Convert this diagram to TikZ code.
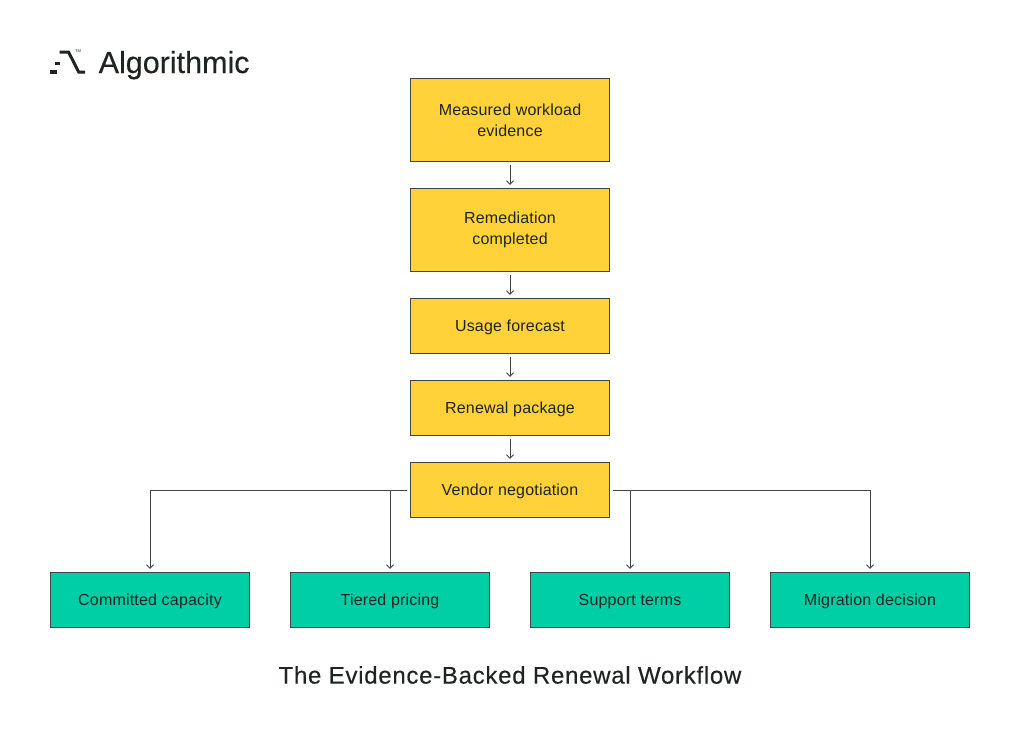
\documentclass[tikz,border=0pt]{standalone}
\usepackage{fontspec}
\setmainfont{Liberation Sans}
\newfontfamily\boxfont[LetterSpace=1.2]{Liberation Sans}
\newfontfamily\titlefont[LetterSpace=3,FakeBold=0.25]{Liberation Sans}
\newfontfamily\brandfont[FakeBold=0.3]{Liberation Sans}
\usetikzlibrary{arrows.meta}
\definecolor{boxyellow}{HTML}{FFD23A}
\definecolor{boxgreen}{HTML}{00CFA6}
\definecolor{inkdark}{HTML}{1E2420}

\begin{document}
\begin{tikzpicture}[x=1pt,y=-1pt,
  flow node/.style={rectangle,draw=inkdark!85,line width=0.9pt,minimum width=199.5pt,inner sep=0pt,align=center,text=inkdark,font=\boxfont\fontsize{16}{21}\selectfont},
  input node/.style={flow node,fill=boxyellow},
  single node/.style={minimum height=55.5pt,text height=14pt,text depth=4pt},
  outcome node/.style={flow node,single node,fill=boxgreen},
  link/.style={draw=inkdark!85,line width=0.9pt,-{Straight Barb[length=3.5pt,width=7pt]},shorten >=3pt,shorten <=3pt}]
  \useasboundingbox (0,0) rectangle (1020,740);

  \node[input node,minimum height=83.5pt] (evidence) at (510,120) {Measured workload\\evidence};
  \node[input node,minimum height=83.5pt] (remediation) at (510,230) {Remediation\\completed};
  \node[input node,single node] (forecast) at (510,326) {Usage forecast};
  \node[input node,single node] (package) at (510,408) {Renewal package};
  \node[input node,single node] (vendor) at (510,490) {Vendor negotiation};

  \node[outcome node] (capacity) at (150,600) {Committed capacity};
  \node[outcome node] (pricing) at (390,600) {Tiered pricing};
  \node[outcome node] (support) at (630,600) {Support terms};
  \node[outcome node] (migration) at (870,600) {Migration decision};

  \node[anchor=base west,inner sep=0pt,text=inkdark,font=\brandfont\fontsize{30.5}{32}\selectfont] (brand) at (98.5,73) {Algorithmic};
  \node[inner sep=0pt,text=inkdark,font=\fontsize{4}{4}\selectfont] (trademark) at (78,51) {TM};
  \node[inner sep=0pt,text=inkdark,font=\titlefont\fontsize{24}{26}\selectfont] (title) at (510,675) {The Evidence-Backed Renewal Workflow};

\path[every edge/.style={link}]
  (evidence) edge (remediation)
  (remediation) edge (forecast)
  (forecast) edge (package)
  (package) edge (vendor)
  (vendor.west) edge [to path={-| (\tikztotarget)}] (capacity.north)
  (vendor.west) edge [to path={-| (\tikztotarget)}] (pricing.north)
  (vendor.east) edge [to path={-| (\tikztotarget)}] (support.north)
  (vendor.east) edge [to path={-| (\tikztotarget)}] (migration.north)
;

  % logo mark
  \fill[inkdark] (50,70.3) rectangle (57,73.5);
  \fill[inkdark] (55,62.3) rectangle (60,64.9);
  \draw[inkdark,line width=3pt] (59.5,52) -- (68.5,52) -- (78.7,72) -- (85,72);
\end{tikzpicture}
\end{document}
